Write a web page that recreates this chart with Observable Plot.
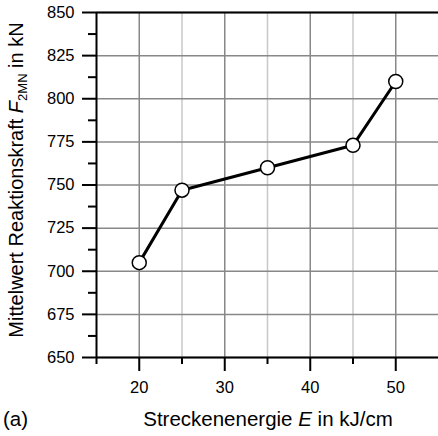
<!DOCTYPE html>
<html>
<head>
<meta charset="utf-8">
<script src="https://cdn.jsdelivr.net/npm/d3@7"></script>
<script src="https://cdn.jsdelivr.net/npm/@observablehq/plot@0.6"></script>
<style>
  html, body { margin: 0; padding: 0; background: #fff; }
  #chart svg { display: block; }
</style>
</head>
<body>
<div id="chart"></div>
<script>
const energy = [20, 25, 35, 45, 50];
const force = [705, 747, 760, 773, 810];

const xMajorTicks = [20, 30, 40, 50];
const xMinorTicks = [15, 25, 35, 45];
const yMajorTicks = [650, 675, 700, 725, 750, 775, 800, 825, 850];
const yMinorTicks = [662.5, 687.5, 712.5, 737.5, 762.5, 787.5, 812.5, 837.5];

const data = energy.map((e, i) => ({ e, f: force[i] }));

const font = "'Liberation Sans', Arial, sans-serif";

const svg = Plot.plot({
  width: 438,
  height: 436,
  marginLeft: 96,
  marginRight: 0,
  marginTop: 12,
  marginBottom: 79,
  style: { fontFamily: font, fontSize: "16px", color: "#000", background: "#fff" },
  x: { domain: [15, 55] },
  y: { domain: [650, 850] },
  marks: [
    Plot.gridX([25, 35, 45], { stroke: "#c8c8c8", strokeOpacity: 1, strokeWidth: 1.5 }),
    Plot.gridX(xMajorTicks, { stroke: "#888", strokeOpacity: 1, strokeWidth: 1.5 }),
    Plot.gridY(yMajorTicks, { stroke: "#888", strokeOpacity: 1, strokeWidth: 1.5 }),
    Plot.axisY(yMajorTicks, { anchor: "left", tickSize: 14, tickPadding: 8, strokeWidth: 2, label: null, tickFormat: d3.format("d"), fontSize: 16.5 }),
    Plot.axisY(yMinorTicks, { anchor: "left", tickSize: 8, strokeWidth: 2, label: null, tickFormat: () => "" }),
    Plot.axisX(xMajorTicks, { anchor: "bottom", tickSize: 14, tickPadding: 10, strokeWidth: 2, label: null, tickFormat: d3.format("d"), fontSize: 16.5 }),
    Plot.axisX(xMinorTicks, { anchor: "bottom", tickSize: 7, strokeWidth: 2, label: null, tickFormat: () => "" }),
    Plot.ruleX([15], { stroke: "#000", strokeWidth: 2 }),
    Plot.ruleY([650, 850], { stroke: "#000", strokeWidth: 2 }),
    Plot.line(data, { x: "e", y: "f", stroke: "#000", strokeWidth: 3 }),
    Plot.dot(data, { x: "e", y: "f", r: 7, fill: "#fff", stroke: "#000", strokeWidth: 1.5 })
  ]
});

const s = d3.select(svg);

// enforce tick label size
s.selectAll("g[aria-label$='tick label'] text").style("font-size", "16.5px").style("font-family", font);

// x-axis title
const xt = s.append("text")
  .attr("x", 268).attr("y", 426)
  .attr("text-anchor", "middle")
  .style("font-family", font).style("font-size", "20.5px").attr("fill", "#000");
xt.append("tspan").text("Streckenenergie ");
xt.append("tspan").style("font-style", "italic").text("E");
xt.append("tspan").text(" in kJ/cm");

// panel label
s.append("text")
  .attr("x", 3).attr("y", 426)
  .attr("text-anchor", "start")
  .style("font-family", font).style("font-size", "20.5px").attr("fill", "#000")
  .text("(a)");

// y-axis title
const yt = s.append("text")
  .attr("transform", "translate(23,180) rotate(-90)")
  .attr("text-anchor", "middle")
  .style("font-family", font).style("font-size", "20px").attr("fill", "#000");
yt.append("tspan").text("Mittelwert Reaktionskraft ");
yt.append("tspan").style("font-style", "italic").text("F");
yt.append("tspan").attr("dy", 4).style("font-size", "13px").text("2MN");
yt.append("tspan").attr("dy", -4).text(" in kN");

document.getElementById("chart").appendChild(svg);
</script>
</body>
</html>
